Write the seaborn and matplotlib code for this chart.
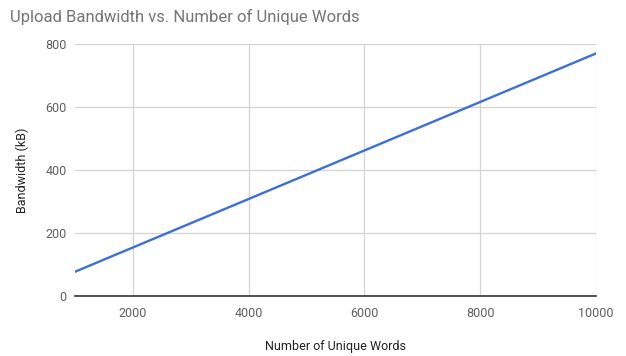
import matplotlib
matplotlib.use("Agg")
import matplotlib.pyplot as plt
import seaborn as sns
import pandas as pd

unique_words = [1000, 2000, 3000, 4000, 5000, 6000, 7000, 8000, 9000, 10000]
bandwidth_kb = [77, 154, 231, 308, 385, 462, 539, 616, 693, 770]
x_ticks = [2000, 4000, 6000, 8000, 10000]
y_ticks = [0, 200, 400, 600, 800]

sns.set_theme(style="white")
plt.rcParams["font.family"] = ["Roboto", "DejaVu Sans"]

df = pd.DataFrame({"words": unique_words, "kb": bandwidth_kb})

fig = plt.figure(figsize=(6.26, 3.56), dpi=100)
ax = fig.add_axes([75 / 626, 60 / 356, 521 / 626, 252 / 356])

sns.lineplot(data=df, x="words", y="kb", ax=ax, color="#3c6fd8", linewidth=1.7)

ax.set_xlim(1000, 10000)
ax.set_ylim(0, 800)
ax.set_xticks(x_ticks)
ax.set_yticks(y_ticks)
ax.set_xticklabels([str(t) for t in x_ticks])
ax.set_yticklabels([str(t) for t in y_ticks])

ax.grid(True, color="#d3d3d3", linewidth=0.9)
ax.set_axisbelow(True)
for side in ["top", "left", "right"]:
    ax.spines[side].set_visible(False)
ax.spines["bottom"].set_color("#333333")
ax.spines["bottom"].set_linewidth(1.2)
ax.spines["bottom"].set_zorder(3)

ax.tick_params(axis="both", length=0, labelsize=9, labelcolor="#5f5f5f")
ax.tick_params(axis="x", pad=8)
ax.tick_params(axis="y", pad=6)

ax.set_xlabel("Number of Unique Words", fontsize=9, color="#222222", labelpad=14)
ax.set_ylabel("Bandwidth (kB)", fontsize=9, color="#222222", labelpad=12)

fig.text(10 / 626, 1 - 17 / 356, "Upload Bandwidth vs. Number of Unique Words",
         fontsize=12, color="#757575", ha="left", va="center")

fig.savefig("out.png", dpi=100, facecolor="white")
